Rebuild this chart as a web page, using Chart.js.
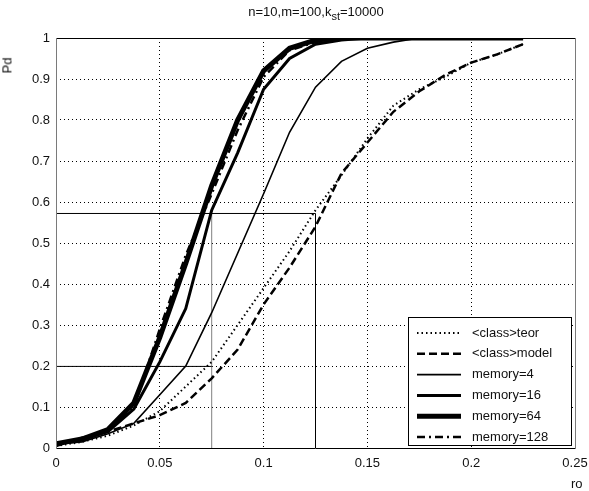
<!DOCTYPE html>
<html>
<head>
<meta charset="utf-8">
<script src="https://cdn.jsdelivr.net/npm/chart.js@4.4.1/dist/chart.umd.min.js"></script>
<style>
  body { margin: 0; background: #fff; }
  #wrap { position: relative; width: 589px; height: 491px; font-family: "Liberation Sans", Arial, sans-serif; color: #111; }
  #title { position: absolute; top: 4px; left: 0; width: 632px; text-align: center; font-size: 13px; }
  #title sub { font-size: 11px; vertical-align: -4px; line-height: 0; }
  #ylab { position: absolute; left: -1px; top: 58px; font-size: 13px; transform: rotate(-90deg); transform-origin: center; }
  #xlab { position: absolute; left: 571px; top: 476px; font-size: 13px; }
</style>
</head>
<body>
<div id="wrap">
  <canvas id="pdChart" width="589" height="491"></canvas>
  <div id="title">n=10,m=100,k<sub>st</sub>=10000</div>
  <div id="ylab">Pd</div>
  <div id="xlab">ro</div>
</div>
<script>
// ro values shared by all curves
const ro = [0, 0.0125, 0.025, 0.0375, 0.05, 0.0625, 0.075, 0.0875, 0.1, 0.1125,
            0.125, 0.1375, 0.15, 0.1625, 0.175, 0.1875, 0.2, 0.2125, 0.225];

// detection probability per curve
const teor      = [0.005, 0.015, 0.03, 0.055, 0.09, 0.15, 0.21, 0.30, 0.39, 0.48,
                   0.58, 0.665, 0.755, 0.835, 0.875, 0.905, 0.94, 0.96, 0.985];
const model     = [0.005, 0.025, 0.04, 0.06, 0.08, 0.11, 0.17, 0.24, 0.35, 0.44,
                   0.54, 0.67, 0.745, 0.82, 0.87, 0.91, 0.94, 0.96, 0.985];
const memory4   = [0.01, 0.015, 0.035, 0.06, 0.13, 0.2, 0.33, 0.475, 0.62, 0.77,
                   0.88, 0.943, 0.975, 0.99, 1, 1, 1, 1, 1];
const memory16  = [0.01, 0.02, 0.04, 0.095, 0.21, 0.34, 0.58, 0.72, 0.875, 0.95,
                   0.985, 0.995, 1, 1, 1, 1, 1, 1, 1];
const memory64  = [0.01, 0.022, 0.045, 0.11, 0.27, 0.45, 0.64, 0.80, 0.92, 0.975,
                   0.995, 1, 1, 1, 1, 1, 1, 1, 1];
const memory128 = [0.01, 0.02, 0.045, 0.10, 0.29, 0.47, 0.62, 0.775, 0.905, 0.97,
                   0.99, 1, 1, 1, 1, 1, 1, 1, 1];

// guide lines: Pd levels and the ro values where they are read
const refRo = [0.075, 0.125];
const refPd = [0.199, 0.572];

const xTicks = [0, 0.05, 0.1, 0.15, 0.2, 0.25];
const yTicks = [0, 0.1, 0.2, 0.3, 0.4, 0.5, 0.6, 0.7, 0.8, 0.9, 1];

function pts(ys) {
  return ro.map((x, i) => ({ x: x, y: ys[i] }));
}

function curve(label, ys, width, dash) {
  return {
    label: label,
    data: pts(ys),
    borderColor: '#000',
    borderWidth: width,
    borderDash: dash,
    pointRadius: 0,
    fill: false,
    tension: 0
  };
}

function guide(points, color) {
  return {
    label: '',
    data: points,
    borderColor: color,
    borderWidth: 1,
    pointRadius: 0,
    fill: false,
    isGuide: true
  };
}

const datasets = [
  curve('<class>teor', teor, 2, [1.5, 3]),
  curve('<class>model', model, 2.5, [8, 4]),
  curve('memory=4', memory4, 1.6, []),
  curve('memory=16', memory16, 3, []),
  curve('memory=64', memory64, 5, []),
  curve('memory=128', memory128, 2.5, [8, 4, 2, 4]),
  guide([{ x: 0, y: refPd[1] }, { x: refRo[1], y: refPd[1] }], '#000'),
  guide([{ x: refRo[1], y: 0 }, { x: refRo[1], y: refPd[1] }], '#000'),
  guide([{ x: 0, y: refPd[0] }, { x: refRo[0], y: refPd[0] }], '#000'),
  guide([{ x: refRo[0], y: 0 }, { x: refRo[0], y: refPd[1] }], '#808080')
];

// legend box inside the plot, bottom right
const boxLegend = {
  id: 'boxLegend',
  afterDatasetsDraw(chart) {
    const ctx = chart.ctx;
    const a = chart.chartArea;
    const w = 163, h = 128;
    const left = a.right - 4 - w, top = a.bottom - 3 - h;
    ctx.save();
    ctx.fillStyle = '#fff';
    ctx.fillRect(left, top, w, h);
    ctx.strokeStyle = '#000';
    ctx.lineWidth = 1;
    ctx.setLineDash([]);
    ctx.strokeRect(left + 0.5, top + 0.5, w, h);
    ctx.font = '13px "Liberation Sans", Arial, sans-serif';
    ctx.textBaseline = 'middle';
    ctx.fillStyle = '#111';
    chart.data.datasets.forEach((ds, i) => {
      if (ds.isGuide) return;
      const y = top + 16 + i * 20.8;
      ctx.beginPath();
      ctx.strokeStyle = ds.borderColor;
      ctx.lineWidth = ds.borderWidth;
      ctx.setLineDash(ds.borderDash || []);
      ctx.moveTo(left + 9, y);
      ctx.lineTo(left + 53, y);
      ctx.stroke();
      ctx.setLineDash([]);
      ctx.fillText(ds.label, left + 64, y);
    });
    ctx.restore();
  }
};

// axes box: dark top/bottom, grey sides
const axesBox = {
  id: 'axesBox',
  afterDraw(chart) {
    const ctx = chart.ctx;
    const a = chart.chartArea;
    ctx.save();
    ctx.lineWidth = 1;
    ctx.strokeStyle = '#000';
    ctx.beginPath();
    ctx.moveTo(a.left, a.top + 0.5); ctx.lineTo(a.right, a.top + 0.5);
    ctx.moveTo(a.left, a.bottom + 0.5); ctx.lineTo(a.right, a.bottom + 0.5);
    ctx.stroke();
    ctx.strokeStyle = '#7a7a7a';
    ctx.beginPath();
    ctx.moveTo(a.left + 0.5, a.top); ctx.lineTo(a.left + 0.5, a.bottom + 1);
    ctx.moveTo(a.right + 0.5, a.top); ctx.lineTo(a.right + 0.5, a.bottom + 1);
    ctx.stroke();
    ctx.restore();
  }
};

const tickFont = { family: '"Liberation Sans", Arial, sans-serif', size: 13 };

new Chart(document.getElementById('pdChart'), {
  type: 'line',
  data: { datasets: datasets },
  plugins: [boxLegend, axesBox],
  options: {
    responsive: false,
    animation: false,
    devicePixelRatio: 1,
    layout: { padding: { top: 38, right: 14, left: 0, bottom: 0 } },
    plugins: { legend: { display: false }, tooltip: { enabled: false }, title: { display: false } },
    scales: {
      x: {
        type: 'linear',
        min: 0,
        max: 0.25,
        afterBuildTicks: s => { s.ticks = xTicks.map(v => ({ value: v })); },
        afterFit: s => { s.height = 43; s.paddingLeft = 0; s.paddingRight = 0; },
        ticks: { font: tickFont, color: '#111', padding: 8, maxRotation: 0, autoSkip: false,
                 callback: v => String(v) },
        grid: { color: '#000', lineWidth: 1, drawTicks: false },
        border: { display: false, dash: [1, 3] }
      },
      y: {
        min: 0,
        max: 1,
        afterBuildTicks: s => { s.ticks = yTicks.map(v => ({ value: v })); },
        afterFit: s => { s.width = 56; s.paddingTop = 0; s.paddingBottom = 0; },
        ticks: { font: tickFont, color: '#111', padding: 6, autoSkip: false,
                 callback: v => String(v) },
        grid: { color: '#000', lineWidth: 1, drawTicks: false },
        border: { display: false, dash: [1, 3] }
      }
    }
  }
});
</script>
</body>
</html>
